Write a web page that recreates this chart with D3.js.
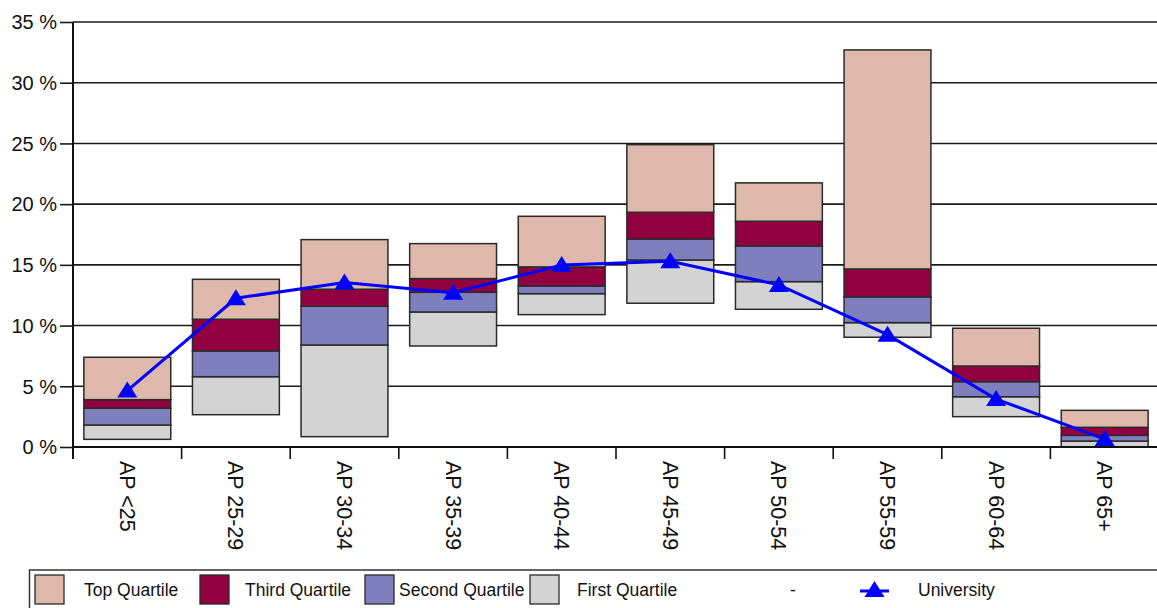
<!DOCTYPE html>
<html>
<head>
<meta charset="utf-8">
<script src="https://cdn.jsdelivr.net/npm/d3@7"></script>
<style>
  html, body { margin: 0; padding: 0; background: #fff; }
  svg { display: block; font-family: "Liberation Sans", Arial, sans-serif; }
</style>
</head>
<body>
<svg id="chart" width="1157" height="608"></svg>
<script>
// ---- data (percent) ----
const categories = ["AP <25", "AP 25-29", "AP 30-34", "AP 35-39", "AP 40-44", "AP 45-49", "AP 50-54", "AP 55-59", "AP 60-64", "AP 65+"];
const minVals    = [0.63, 2.66, 0.85, 8.32, 10.90, 11.84, 11.34, 9.04, 2.50, 0.02];
const q1Vals     = [1.81, 5.79, 8.40, 11.12, 12.63, 15.40, 13.62, 10.24, 4.14, 0.49];
const q2Vals     = [3.19, 7.91, 11.59, 12.74, 13.26, 17.13, 16.56, 12.36, 5.38, 0.96];
const q3Vals     = [3.90, 10.52, 12.99, 13.87, 14.83, 19.33, 18.59, 14.66, 6.67, 1.62];
const maxVals    = [7.39, 13.81, 17.08, 16.75, 19.00, 24.90, 21.75, 32.70, 9.78, 3.02];
const university = [4.65, 12.25, 13.55, 12.70, 14.99, 15.30, 13.35, 9.25, 3.95, 0.65];
const yTicks     = [0, 5, 10, 15, 20, 25, 30, 35];
const seriesNames  = ["Top Quartile", "Third Quartile", "Second Quartile", "First Quartile"];
const seriesColors = ["#DEB8AA", "#910041", "#7F7FBE", "#D3D3D3"];

(function () {
const svg = d3.select("#chart");
const pLeft = 73, pRight = 1159, pTop = 22, pBottom = 447;

const x = d3.scaleBand().domain(categories).range([pLeft, pRight]).paddingInner(0.2).paddingOuter(0.1);
const y = d3.scaleLinear().domain([0, 35]).range([pBottom, pTop]);

// gridlines
svg.append("g").selectAll("line").data(yTicks.filter(d => d > 0)).join("line")
  .attr("x1", pLeft).attr("x2", 1157)
  .attr("y1", d => y(d)).attr("y2", d => y(d))
  .attr("stroke", "#1a1a1a").attr("stroke-width", 1.6);

// y axis
const yAxis = svg.append("g").attr("transform", `translate(${pLeft},0)`)
  .call(d3.axisLeft(y).tickValues(yTicks).tickSize(13).tickFormat(d => d + " %"));
yAxis.select(".domain").remove();
yAxis.selectAll(".tick line").attr("stroke", "#1a1a1a").attr("stroke-width", 1.6);
yAxis.selectAll(".tick text").attr("font-size", 20).attr("fill", "#111")
  .attr("font-family", "Liberation Sans, Arial, sans-serif").attr("x", -16).attr("dy", "0.34em");
svg.append("line").attr("x1", pLeft).attr("x2", pLeft).attr("y1", pTop).attr("y2", pBottom + 12)
  .attr("stroke", "#111").attr("stroke-width", 2);

// stacked floating bars
const segs = [];
categories.forEach((c, i) => {
  const bounds = [minVals[i], q1Vals[i], q2Vals[i], q3Vals[i], maxVals[i]];
  for (let k = 0; k < 4; k++) {
    segs.push({ c, lo: bounds[k], hi: bounds[k + 1], color: seriesColors[3 - k] });
  }
});
svg.append("g").selectAll("rect").data(segs).join("rect")
  .attr("x", d => x(d.c)).attr("width", x.bandwidth())
  .attr("y", d => y(d.hi)).attr("height", d => y(d.lo) - y(d.hi))
  .attr("fill", d => d.color).attr("stroke", "#2a2a2a").attr("stroke-width", 1.5);

// x axis
svg.append("line").attr("x1", pLeft).attr("x2", 1157).attr("y1", pBottom).attr("y2", pBottom)
  .attr("stroke", "#111").attr("stroke-width", 2.2);
const step = x.step();
svg.append("g").selectAll("line").data(d3.range(categories.length)).join("line")
  .attr("x1", i => pLeft + i * step).attr("x2", i => pLeft + i * step)
  .attr("y1", pBottom).attr("y2", pBottom + 12)
  .attr("stroke", "#111").attr("stroke-width", 1.6);
svg.append("g").selectAll("text").data(categories).join("text")
  .attr("transform", d => `translate(${x(d) + x.bandwidth() / 2},461) rotate(90)`)
  .attr("dy", "0.35em").attr("text-anchor", "start")
  .attr("font-size", 21.5).attr("fill", "#111").text(d => d);

// university line
const pts = categories.map((c, i) => [x(c) + x.bandwidth() / 2, y(university[i])]);
svg.append("path").attr("d", d3.line()(pts)).attr("fill", "none")
  .attr("stroke", "#0000FF").attr("stroke-width", 3);
const tri = "M0,-9 L10,7 L-10,7 Z";
svg.append("g").selectAll("path").data(pts).join("path")
  .attr("transform", d => `translate(${d[0]},${d[1]})`).attr("d", tri).attr("fill", "#0000FF");

// legend
const lg = svg.append("g");
lg.append("rect").attr("x", 29.5).attr("y", 570).attr("width", 1140).attr("height", 50)
  .attr("fill", "none").attr("stroke", "#333").attr("stroke-width", 1.5);
const swX = [35, 200, 365, 530];
const txX = [84, 245, 399, 577];
seriesNames.forEach((n, i) => {
  lg.append("rect").attr("x", swX[i]).attr("y", 575).attr("width", 29).attr("height", 29)
    .attr("fill", seriesColors[i]).attr("stroke", "#2a2a2a").attr("stroke-width", 1.3);
  lg.append("text").attr("x", txX[i]).attr("y", 590).attr("dy", "0.35em")
    .attr("font-size", 17.5).attr("fill", "#111").text(n);
});
lg.append("text").attr("x", 790).attr("y", 590).attr("dy", "0.35em").attr("font-size", 17.5).attr("fill", "#111").text("-");
lg.append("line").attr("x1", 860).attr("x2", 889).attr("y1", 591).attr("y2", 591).attr("stroke", "#0000FF").attr("stroke-width", 3);
lg.append("path").attr("transform", "translate(874.5,590)").attr("d", tri).attr("fill", "#0000FF");
lg.append("text").attr("x", 918).attr("y", 590).attr("dy", "0.35em").attr("font-size", 17.5).attr("fill", "#111").text("University");
})();
</script>
</body>
</html>
